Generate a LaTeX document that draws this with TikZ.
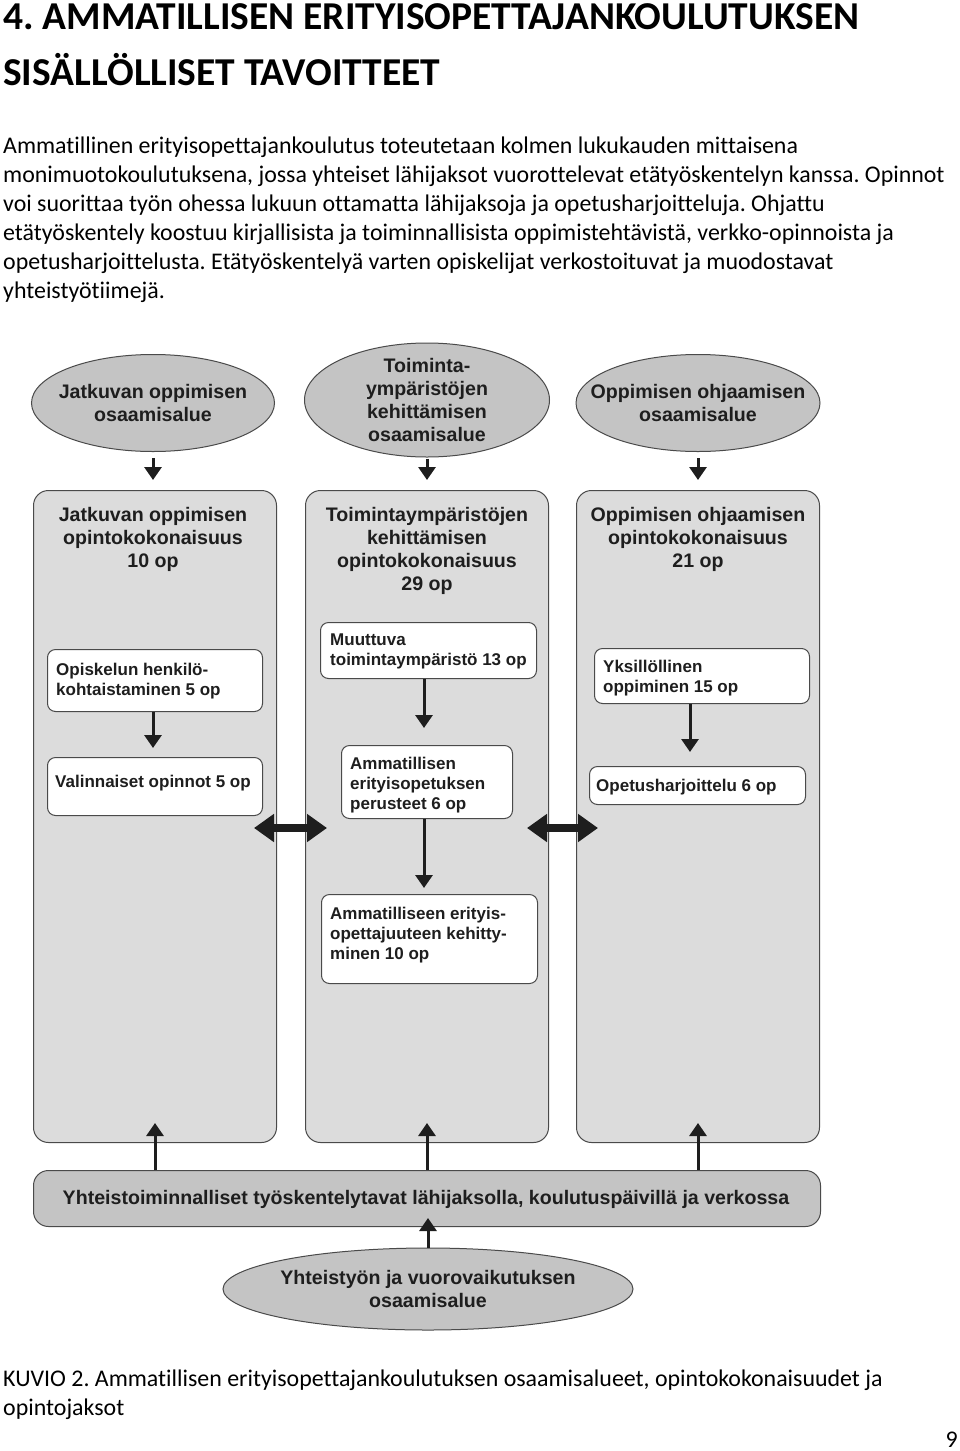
\documentclass[tikz,border=0pt]{standalone}
\usepackage{fontspec}
\setmainfont{Carlito}[Ligatures={NoCommon}]
\newfontfamily\arialf{Liberation Sans}
\usetikzlibrary{shapes.geometric,arrows.meta}
\definecolor{ellfill}{HTML}{C4C4C4}
\definecolor{colfill}{HTML}{DCDCDC}
\definecolor{edge}{HTML}{4A4A4A}
\definecolor{ink}{HTML}{1E1E1E}
\frenchspacing
\begin{document}
\begin{tikzpicture}[x=1pt,y=-1pt,
  area/.style={ellipse, draw=edge, fill=ellfill, line width=1pt, inner sep=0pt},
  arealabel/.style={inner sep=0pt, align=center, text=ink,
    font=\arialf\bfseries\fontsize{19.6}{23}\selectfont},
  colbox/.style={rounded corners=15pt, draw=edge, fill=colfill, line width=1pt,
    minimum width=243pt, minimum height=652pt, anchor=north west, inner sep=0pt},
  colhead/.style={anchor=north, inner sep=0pt, align=center, text=ink,
    font=\arialf\bfseries\fontsize{19.6}{23}\selectfont},
  inbox/.style={rounded corners=8pt, draw=edge, fill=white, line width=1pt,
    anchor=north west, inner sep=0pt},
  inlabel/.style={anchor=north west, inner sep=0pt, align=left, text=ink,
    font=\arialf\bfseries\fontsize{17}{20}\selectfont},
  sarrow/.style={line width=3pt, draw=ink, -{Triangle[width=17pt,length=13pt]}},
  darrow/.style={line width=8pt, draw=ink, {Triangle[width=27pt,length=20pt]}-{Triangle[width=27pt,length=20pt]}},
  bodytext/.style={anchor=north west, inner sep=0pt, align=left, text=black,
    font=\fontsize{23.9}{29}\selectfont}
]
\useasboundingbox (0,0) rectangle (960,1451);

% title and body text
\node[anchor=north west, inner sep=0pt, align=left, text=black,
  font=\bfseries\fontsize{39.5}{56}\selectfont] (title) at (3,3)
  {4. AMMATILLISEN ERITYISOPETTAJANKOULUTUKSEN\\SISÄLLÖLLISET TAVOITTEET};
\node[bodytext] (body) at (3,137)
  {Ammatillinen erityisopettajankoulutus toteutetaan kolmen lukukauden mittaisena\\
   monimuotokoulutuksena, jossa yhteiset lähijaksot vuorottelevat etätyöskentelyn kanssa. Opinnot\\
   voi suorittaa työn ohessa lukuun ottamatta lähijaksoja ja opetusharjoitteluja. Ohjattu\\
   etätyöskentely koostuu kirjallisista ja toiminnallisista oppimistehtävistä, verkko-opinnoista ja\\
   opetusharjoittelusta. Etätyöskentelyä varten opiskelijat verkostoituvat ja muodostavat\\
   yhteistyötiimejä.};

% top ellipses
\node[area, minimum width=243pt, minimum height=97pt] (e1) at (153,403) {};
\node[arealabel] (t1) at (e1.center) {Jatkuvan oppimisen\\osaamisalue};
\node[area, minimum width=245pt, minimum height=114pt] (e2) at (427,400) {};
\node[arealabel] (t2) at (e2.center) {Toiminta-\\ympäristöjen\\kehittämisen\\osaamisalue};
\node[area, minimum width=244pt, minimum height=97pt] (e3) at (698,403) {};
\node[arealabel] (t3) at (e3.center) {Oppimisen ohjaamisen\\osaamisalue};

% columns
\node[colbox] (c1) at (33,490) {};
\node[colbox] (c2) at (305,490) {};
\node[colbox] (c3) at (576,490) {};

\node[colhead] (h1) at (153,507) {Jatkuvan oppimisen\\opintokokonaisuus\\10 op};
\node[colhead] (h2) at (427,507) {Toimintaympäristöjen\\kehittämisen\\opintokokonaisuus\\29 op};
\node[colhead] (h3) at (698,507) {Oppimisen ohjaamisen\\opintokokonaisuus\\21 op};

% arrows from ellipses to columns
\draw[sarrow, shorten <=6pt, shorten >=10pt] (e1.south) -- (e1.south |- c1.north);
\draw[sarrow, shorten <=1pt, shorten >=10pt] (e2.south) -- (e2.south |- c2.north);
\draw[sarrow, shorten <=6pt, shorten >=10pt] (e3.south) -- (e3.south |- c3.north);

% inner boxes column 1
\node[inbox, minimum width=215pt, minimum height=62pt] (bA) at (47,649) {};
\node[inlabel] (lA) at (56,663) {Opiskelun henkilö-\\kohtaistaminen 5 op};
\node[inbox, minimum width=215pt, minimum height=58pt] (bB) at (47,757) {};
\node[inlabel] (lB) at (55,775) {Valinnaiset opinnot 5 op};

% inner boxes column 2
\node[inbox, minimum width=216pt, minimum height=56pt] (bC) at (320,622) {};
\node[inlabel] (lC) at (330,634) {Muuttuva\\toimintaympäristö 13 op};
\node[inbox, minimum width=171pt, minimum height=73pt] (bD) at (341,745) {};
\node[inlabel] (lD) at (350,757) {Ammatillisen\\erityisopetuksen\\perusteet 6 op};
\node[inbox, minimum width=216pt, minimum height=89pt] (bE) at (321,894) {};
\node[inlabel] (lE) at (330,907) {Ammatilliseen erityis-\\opettajuuteen kehitty-\\minen 10 op};

% inner boxes column 3
\node[inbox, minimum width=215pt, minimum height=55pt] (bF) at (594,648) {};
\node[inlabel] (lF) at (603,660) {Yksillöllinen\\oppiminen 15 op};
\node[inbox, minimum width=216pt, minimum height=38pt] (bG) at (589,766) {};
\node[inlabel] (lG) at (596,779) {Opetusharjoittelu 6 op};

% inner arrows
\draw[sarrow, shorten >=9pt] (bA.south -| 153,0) -- (bB.north -| 153,0);
\draw[sarrow, shorten >=17pt] (bC.south -| 424,0) -- (bD.north -| 424,0);
\draw[sarrow, shorten >=6pt] (bD.south -| 424,0) -- (bE.north -| 424,0);
\draw[sarrow, shorten >=14pt] (bF.south -| 690,0) -- (bG.north -| 690,0);

% double arrows between columns
\coordinate (mid) at (0,828);
\draw[darrow, shorten <=-23pt, shorten >=-22pt] (c1.east |- mid) -- (c2.west |- mid);
\draw[darrow, shorten <=-22pt, shorten >=-22pt] (c2.east |- mid) -- (c3.west |- mid);

% bottom bar
\node[rounded corners=15pt, draw=edge, fill=ellfill, line width=1pt, anchor=north west,
  minimum width=787pt, minimum height=56pt, inner sep=0pt] (bar) at (33,1170) {};
\node[inner sep=0pt, text=ink, font=\arialf\bfseries\fontsize{19.6}{23}\selectfont] (barlabel)
  at (426,1199) {Yhteistoiminnalliset työskentelytavat lähijaksolla, koulutuspäivillä ja verkossa};

\draw[sarrow, shorten >=-20pt] (bar.north -| c1.south) -- (c1.south);
\draw[sarrow, shorten >=-20pt] (bar.north -| c2.south) -- (c2.south);
\draw[sarrow, shorten >=-20pt] (bar.north -| c3.south) -- (c3.south);

% bottom ellipse
\node[area, minimum width=410pt, minimum height=82pt] (e4) at (428,1289) {};
\node[arealabel] (t4) at (e4.center) {Yhteistyön ja vuorovaikutuksen\\osaamisalue};
\draw[sarrow, shorten >=-9pt] (e4.north) -- (e4.north |- bar.south);

% caption and page number
\node[bodytext] (caption) at (3,1370)
  {KUVIO 2. Ammatillisen erityisopettajankoulutuksen osaamisalueet, opintokokonaisuudet ja\\opintojaksot};
\node[anchor=south east, inner sep=0pt, font=\fontsize{23.9}{26}\selectfont] (page) at (958,1448) {9};
\end{tikzpicture}
\end{document}
